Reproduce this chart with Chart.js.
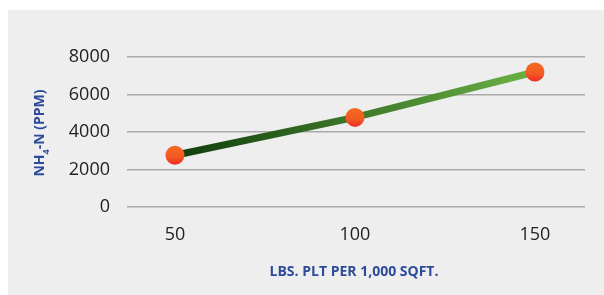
<!DOCTYPE html>
<html><head><meta charset="utf-8">
<script src="https://cdn.jsdelivr.net/npm/chart.js@4/dist/chart.umd.min.js"></script>
<style>
html,body{margin:0;padding:0;background:#fff;width:604px;height:295px;overflow:hidden}
#wrap{position:absolute;left:8px;top:10px;width:596px;height:285px;background:#eeeeee}
</style></head><body>
<div id="wrap"><canvas id="c" width="596" height="285"></canvas></div>
<script>
const categories = [50, 100, 150];
const values = [2760, 4780, 7200];
const yTicks = [0, 2000, 4000, 6000, 8000];
const xTitle = "LBS. PLT PER 1,000 SQFT.";
const yTitleMain = "NH";
const yTitleSub = "4";
const yTitleRest = "-N (PPM)";

const titlePlugin = {
  id: 'titles',
  afterDraw(chart) {
    const ctx = chart.ctx;
    ctx.save();
    ctx.fillStyle = '#2e4b9b';
    ctx.font = 'bold 14px "Open Sans"';
    ctx.textAlign = 'center';
    ctx.textBaseline = 'middle';
    ctx.fillText(xTitle, 346, 262);
    ctx.translate(32, 123);
    ctx.rotate(-Math.PI / 2);
    const fMain = 'bold 14px "Open Sans"', fSub = 'bold 9px "Open Sans"';
    ctx.font = fMain; const w1 = ctx.measureText(yTitleMain).width;
    const w3 = ctx.measureText(yTitleRest).width;
    ctx.font = fSub; const w2 = ctx.measureText(yTitleSub).width;
    let x = -(w1 + w2 + w3) / 2;
    ctx.textAlign = 'left';
    ctx.font = fMain; ctx.fillText(yTitleMain, x, 0); x += w1;
    ctx.font = fSub; ctx.fillText(yTitleSub, x, 6); x += w2;
    ctx.font = fMain; ctx.fillText(yTitleRest, x, 0);
    ctx.restore();
  }
};

new Chart(document.getElementById('c'), {
  type: 'line',
  data: {
    datasets: [{
      data: categories.map((c, i) => ({x: c, y: values[i]})),
      borderWidth: 7,
      borderColor(ctx) {
        const ca = ctx.chart.chartArea;
        if (!ca) return '#3a7a25';
        const g = ctx.chart.ctx.createLinearGradient(167, 0, 527, 0);
        g.addColorStop(0, '#0f3e0c');
        g.addColorStop(1, '#6cb246');
        return g;
      },
      pointRadius: 9.5,
      pointBorderWidth: 0,
      pointBackgroundColor(ctx) {
        const el = ctx.element;
        const c = ctx.chart.ctx;
        if (!el || el.y == null || isNaN(el.y)) return '#f25f22';
        const g = c.createLinearGradient(0, el.y - 9.5, 0, el.y + 9.5);
        g.addColorStop(0, '#f46a22');
        g.addColorStop(0.6, '#f25a22');
        g.addColorStop(1, '#ee2a24');
        return g;
      },
      tension: 0
    }]
  },
  options: {
    animation: false,
    responsive: false,
    layout: {padding: {left: 0, top: 47, right: 19, bottom: 0}},
    plugins: {legend: {display: false}, tooltip: {enabled: false}},
    scales: {
      x: {
        type: 'linear', min: 36.67, max: 163.9,
        afterBuildTicks(s) { s.ticks = categories.map(v => ({value: v})); },
        afterFit(s) { s.height = 88; },
        grid: {display: false, drawTicks: false},
        border: {display: false},
        ticks: {padding: 17, color: '#222', font: {family: '"Open Sans"', size: 18}, maxRotation: 0}
      },
      y: {
        min: 0, max: 8000,
        afterBuildTicks(s) { s.ticks = yTicks.map(v => ({value: v})); },
        afterFit(s) { s.width = 119; },
        grid: {color: '#aaaaaa', lineWidth: 1.5, drawTicks: false},
        border: {display: false},
        ticks: {padding: 17, color: '#222', font: {family: '"Open Sans"', size: 18}, callback: v => String(v)}
      }
    }
  },
  plugins: [titlePlugin]
});
</script></body></html>
